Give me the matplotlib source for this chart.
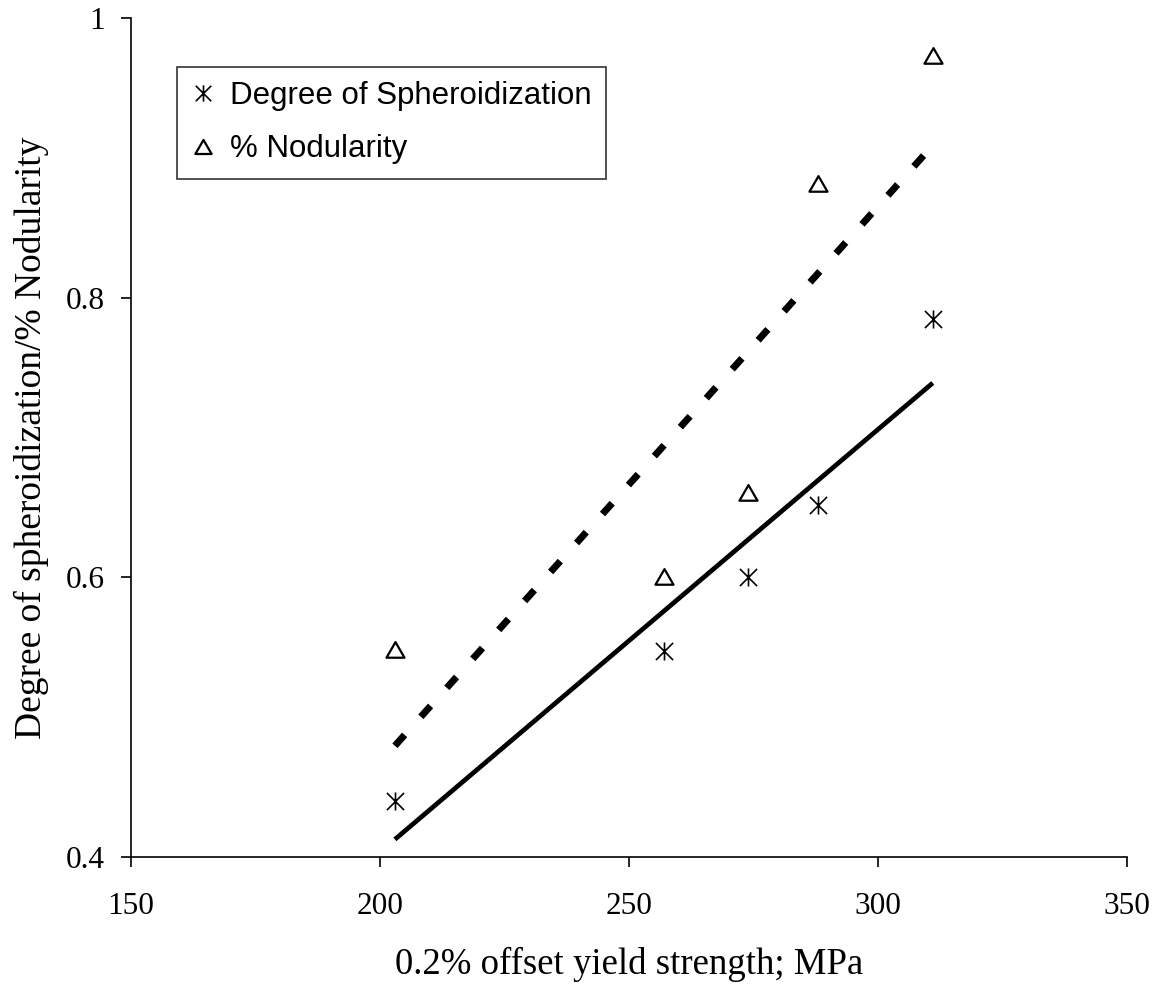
import numpy as np
import matplotlib
matplotlib.use("Agg")
import matplotlib.pyplot as plt
from matplotlib.path import Path

# Data
yield_strength = [203, 257, 274, 288, 311]
spheroidization = [0.44, 0.547, 0.60, 0.652, 0.785]
nodularity = [0.548, 0.60, 0.66, 0.881, 0.973]
x_ticks = [150, 200, 250, 300, 350]
y_ticks = [0.4, 0.6, 0.8, 1.0]
y_tick_labels = ["0.4", "0.6", "0.8", "1"]

fig = plt.figure(figsize=(11.58, 9.89), dpi=100)
ax = fig.add_axes([0.1131, 0.1335, 0.8601, 0.8483])

x = np.array(yield_strength, dtype=float)
xf = np.array([x.min(), x.max()])
p1 = np.polyfit(x, spheroidization, 1)
p2 = np.polyfit(x, nodularity, 1)

ax.plot(xf, np.polyval(p1, xf), color="black", lw=3.4, solid_capstyle="butt")
ax.plot(xf, np.polyval(p2, xf), color="black", lw=5.0, dashes=(2.1, 3.5), dash_capstyle="butt")

# asterisk: vertical bar plus an X
ast = Path([(0, -1), (0, 1), (-0.95, -0.95), (0.95, 0.95), (-0.95, 0.95), (0.95, -0.95)],
           [Path.MOVETO, Path.LINETO, Path.MOVETO, Path.LINETO, Path.MOVETO, Path.LINETO])
tri = Path([(-1, -0.80), (1, -0.80), (0, 0.93), (-1, -0.80)],
           [Path.MOVETO, Path.LINETO, Path.LINETO, Path.CLOSEPOLY])

ax.plot(x, spheroidization, linestyle="none", marker=ast, markersize=13, mew=1.2,
        color="black", label="Degree of Spheroidization")
ax.plot(x, nodularity, linestyle="none", marker=tri, markersize=13, mew=1.6,
        markerfacecolor="none", markeredgecolor="black", label="% Nodularity")

ax.set_xlim(150, 350)
ax.set_ylim(0.4, 1.0)
ax.set_xticks(x_ticks)
ax.set_yticks(y_ticks)
ax.set_yticklabels(y_tick_labels)
ax.spines["top"].set_visible(False)
ax.spines["right"].set_visible(False)
for s in ["left", "bottom"]:
    ax.spines[s].set_linewidth(1.2)
ax.tick_params(direction="out", length=7, width=1.2, labelsize=22.5)
ax.tick_params(axis="y", pad=12)
ax.tick_params(axis="x", pad=18)
for lab in ax.get_xticklabels() + ax.get_yticklabels():
    lab.set_family("Liberation Serif")

ax.set_xlabel("0.2% offset yield strength; MPa", family="Liberation Serif", fontsize=26.5, labelpad=19)
ax.set_ylabel("Degree of spheroidization/% Nodularity", family="Liberation Serif", fontsize=27, labelpad=12)

leg = ax.legend(loc="upper left", bbox_to_anchor=(0.0462, 0.9416), borderaxespad=0,
                prop={"family": "Liberation Sans", "size": 22.5}, frameon=True, fancybox=False,
                edgecolor="black", handlelength=0.75, handletextpad=0.5, borderpad=0.45,
                labelspacing=0.75, markerscale=0.9)
leg.get_frame().set_linewidth(1.2)

fig.savefig("out.png", dpi=100)
